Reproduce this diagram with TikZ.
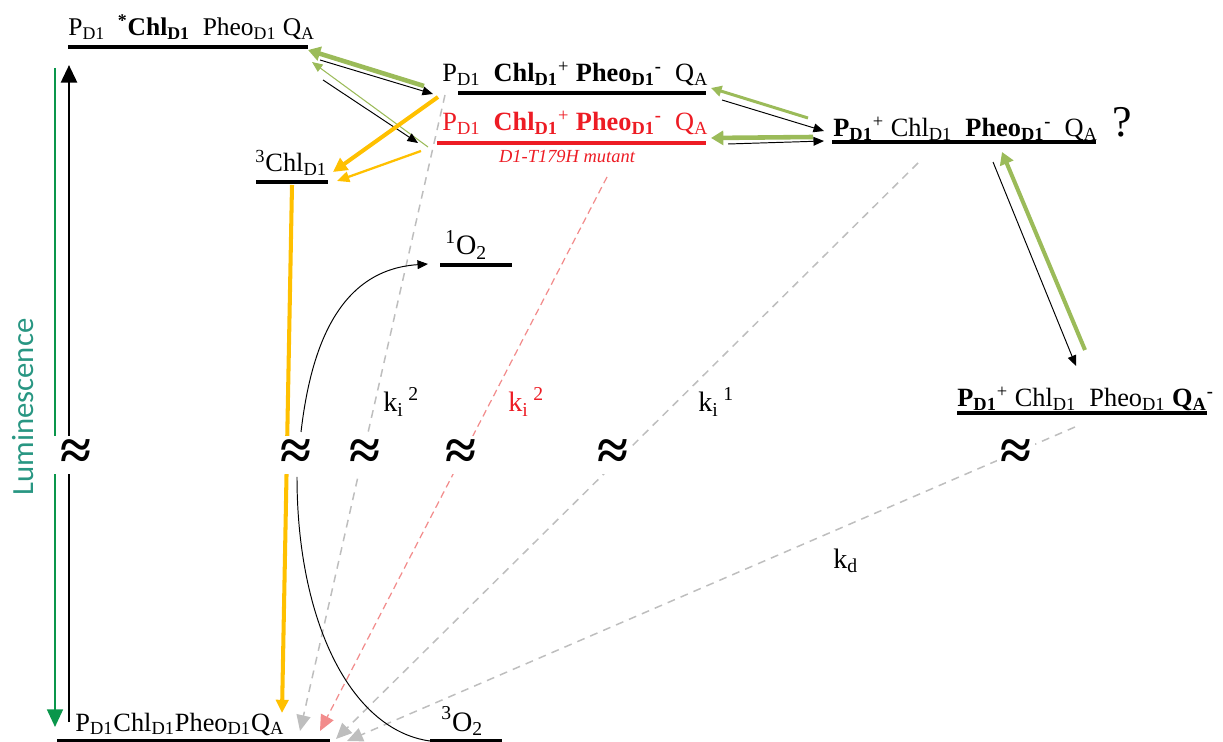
\documentclass[tikz,border=0pt]{standalone}
\usepackage{fontspec}
\setmainfont{Liberation Serif}
\newfontfamily\lumfont{Carlito}
\usetikzlibrary{arrows.meta}
\definecolor{ambery}{RGB}{255,192,0}
\definecolor{olivegr}{RGB}{155,187,89}
\definecolor{lumgreen}{RGB}{10,150,75}
\definecolor{lumteal}{RGB}{40,150,130}
\definecolor{mutred}{RGB}{237,28,36}
\definecolor{pinkred}{RGB}{242,140,140}
\definecolor{dashgray}{RGB}{190,190,190}
\newcommand{\lowtx}[1]{\textsubscript{#1}}
\newcommand{\uptx}[1]{\textsuperscript{#1}}

\begin{document}
\begin{tikzpicture}[x=0.02cm, y=-0.02cm, >=Triangle,
  level/.style={line width=2.5pt, line cap=butt},
  lab/.style={anchor=base west, inner sep=0pt, font=\fontsize{15}{18}\selectfont},
  biglab/.style={anchor=base west, inner sep=0pt, font=\fontsize{16}{19}\selectfont},
  klab/.style={anchor=base west, inner sep=0pt, font=\fontsize{16}{18}\selectfont},
  wavy/.style={fill=white, inner xsep=2pt, inner ysep=0pt, minimum height=0.76cm,
    font=\fontsize{32}{32}\selectfont\bfseries},
  thinblk/.style={line width=0.55pt, -{Triangle[length=6pt,width=5pt]}},
  grnthick/.style={olivegr, line width=2.6pt, -{Triangle[length=7pt,width=8pt]}},
  grnmid/.style={olivegr, line width=1.7pt, -{Triangle[length=6pt,width=6pt]}},
  grnthin/.style={olivegr, line width=0.6pt, -{Triangle[length=6pt,width=5pt]}},
  yelthick/.style={ambery, line width=2.3pt, -{Triangle[length=8pt,width=8pt]}},
  yelthin/.style={ambery, line width=1.3pt, -{Triangle[length=7pt,width=6pt]}},
  decay/.style={dashgray, line width=0.85pt, dash pattern=on 4.5pt off 3.5pt,
    -{Triangle[length=9pt,width=8pt]}},
  decayred/.style={pinkred, line width=0.7pt, dash pattern=on 4pt off 2.5pt,
    -{Triangle[length=9pt,width=8pt]}}]
  \useasboundingbox (0,0) rectangle (1223,742);

  % level end points
  \coordinate (exL) at (68,47);    \coordinate (exR) at (308,47);
  \coordinate (cpL) at (458,93);   \coordinate (cpR) at (706,93);
  \coordinate (mtL) at (437,143);  \coordinate (mtR) at (706,143);
  \coordinate (ppL) at (832,142);  \coordinate (ppR) at (1096,142);
  \coordinate (pqL) at (957,413);  \coordinate (pqR) at (1207,413);
  \coordinate (tcL) at (256,182);  \coordinate (tcR) at (328,182);
  \coordinate (soL) at (440,265);  \coordinate (soR) at (512,265);
  \coordinate (gsL) at (57,741);   \coordinate (gsR) at (330,741);
  \coordinate (toL) at (430,741);  \coordinate (toR) at (502,741);

  % levels
  \foreach \a/\b in {exL/exR, cpL/cpR, ppL/ppR, pqL/pqR, tcL/tcR, soL/soR, gsL/gsR, toL/toR}
    \draw[level] (\a) -- (\b);
  \draw[level, mutred] (mtL) -- (mtR);

  % level labels
  \node[lab, font=\fontsize{14.5}{17}\selectfont] (exLab) at (68,36) {P\lowtx{D1}\ \ \textbf{\uptx{*}Chl\lowtx{D1}}\ \ Pheo\lowtx{D1} Q\lowtx{A}};
  \node[lab] (cpLab) at (442,82) {P\lowtx{D1}\ \ \textbf{Chl\lowtx{D1}}\uptx{+} \textbf{Pheo\lowtx{D1}\uptx{-}}\ \ Q\lowtx{A}};
  \node[lab, text=mutred] (mtLab) at (442,131) {P\lowtx{D1}\ \ \textbf{Chl\lowtx{D1}}\uptx{+} \textbf{Pheo\lowtx{D1}\uptx{-}}\ \ Q\lowtx{A}};
  \node[text=mutred, inner sep=0pt, anchor=base, font=\fontsize{10.5}{12}\selectfont\itshape] (mtNote) at (567,163) {D1-T179H mutant};
  \node[lab] (ppLab) at (833,137) {\textbf{P\lowtx{D1}}\uptx{+} Chl\lowtx{D1}\ \ \textbf{Pheo\lowtx{D1}}\uptx{\textbf{-}}\ \ Q\lowtx{A}};
  \node[anchor=base west, inner sep=0pt, font=\fontsize{25}{28}\selectfont] (qmark) at (1112,137) {?};
  \node[lab] (pqLab) at (957,407) {\textbf{P\lowtx{D1}}\uptx{+} Chl\lowtx{D1}\ \ Pheo\lowtx{D1} \textbf{Q\lowtx{A}}\uptx{\textbf{-}}};
  \node[lab] (tcLab) at (255,172) {\uptx{3}Chl\lowtx{D1}};
  \node[lab, font=\fontsize{16}{18}\selectfont] (soLab) at (445,255) {\uptx{1}O\lowtx{2}};
  \node[lab] (gsLab) at (75,731) {P\lowtx{D1}Chl\lowtx{D1}Pheo\lowtx{D1}Q\lowtx{A}};
  \node[biglab] (toLab) at (441,731) {\uptx{3}O\lowtx{2}};

  % excitation and luminescence
  \coordinate (exc0) at (69,722);  \coordinate (exc1) at (69,65);
  \coordinate (lum0) at (55,68);   \coordinate (lum1) at (55,727);
  \draw[line width=1.7pt, -{Triangle[length=10pt,width=9pt]}] (exc0) -- (exc1);
  \draw[lumgreen, line width=1.2pt, -{Triangle[length=10pt,width=9pt]}] (lum0) -- (lum1);
  \node[rotate=90, text=lumteal, inner sep=0pt, font=\lumfont\fontsize{17.5}{20}\selectfont] (lumLab) at (23,407) {Luminescence};

  % transfers around the top levels
  \coordinate (a1) at (424,86);   \coordinate (a2) at (308,50);
  \coordinate (b1) at (320,60);   \coordinate (b2) at (433,94);
  \coordinate (c1) at (428,147);  \coordinate (c2) at (312,62);
  \coordinate (d1) at (323,80);   \coordinate (d2) at (418,143);
  \draw[grnthick] (a1) -- (a2);
  \draw[thinblk] (b1) -- (b2);
  \draw[grnthin] (c1) -- (c2);
  \draw[thinblk] (d1) -- (d2);

  \coordinate (e1) at (808,118);  \coordinate (e2) at (711,88);
  \coordinate (f1) at (722,100);  \coordinate (f2) at (824,131);
  \coordinate (g1) at (813,137);  \coordinate (g2) at (711,138);
  \coordinate (h1) at (728,144);  \coordinate (h2) at (824,141);
  \draw[grnmid] (e1) -- (e2);
  \draw[thinblk] (f1) -- (f2);
  \draw[grnthick] (g1) -- (g2);
  \draw[thinblk] (h1) -- (h2);

  \coordinate (m1) at (993,162);  \coordinate (m2) at (1076,366);
  \coordinate (n1) at (1085,350); \coordinate (n2) at (1002,152);
  \draw[thinblk] (m1) -- (m2);
  \draw[olivegr, line width=2.3pt, -{Triangle[length=7pt,width=8pt]}] (n1) -- (n2);

  % triplet route
  \coordinate (y1) at (438,97);   \coordinate (y2) at (333,172);
  \coordinate (y3) at (421,151);  \coordinate (y4) at (337,181);
  \coordinate (y5) at (292,185);  \coordinate (y6) at (282,713);
  \draw[yelthick] (y1) -- (y2);
  \draw[yelthin] (y3) -- (y4);
  \draw[ambery, line width=2.3pt, -{Triangle[length=7.5pt,width=7pt]}] (y5) -- (y6);

  % recombination to the ground state
  \coordinate (r1) at (445,95);   \coordinate (r2) at (300,731);
  \coordinate (s1) at (607,177);  \coordinate (s2) at (320,731);
  \coordinate (t1) at (918,163);  \coordinate (t2) at (336,739);
  \coordinate (u1) at (1075,427); \coordinate (u2) at (347,741);
  \draw[decay] (r1) -- (r2);
  \draw[decayred] (s1) -- (s2);
  \draw[decay] (t1) -- (t2);
  \draw[decay] (u1) -- (u2);
  \node[klab] (kb) at (383,412) {k\lowtx{i}\,\uptx{2}};
  \node[klab, text=mutred] (kr) at (508,412) {k\lowtx{i}\,\uptx{2}};
  \node[klab] (k1) at (698,412) {k\lowtx{i}\,\uptx{1}};
  \node[klab] (kd) at (833,568) {k\lowtx{d}};

  % oxygen sensitisation
  \coordinate (o1) at (301,432);  \coordinate (o2) at (428,264);
  \coordinate (o3) at (297,477);  \coordinate (o4) at (430,741);
  \draw[thinblk] (o1) .. controls (310,355) and (335,270) .. (o2);
  \draw[line width=0.55pt] (o3) .. controls (297,620) and (350,730) .. (o4);

  % axis breaks
  \node[wavy, minimum width=0.96cm] (brk0) at (76,455) {≈};
  \foreach \x/\n in {296/1, 365/2, 461/3, 613/4, 1016/5}
    \node[wavy] (brk\n) at (\x,455) {≈};
\end{tikzpicture}
\end{document}
